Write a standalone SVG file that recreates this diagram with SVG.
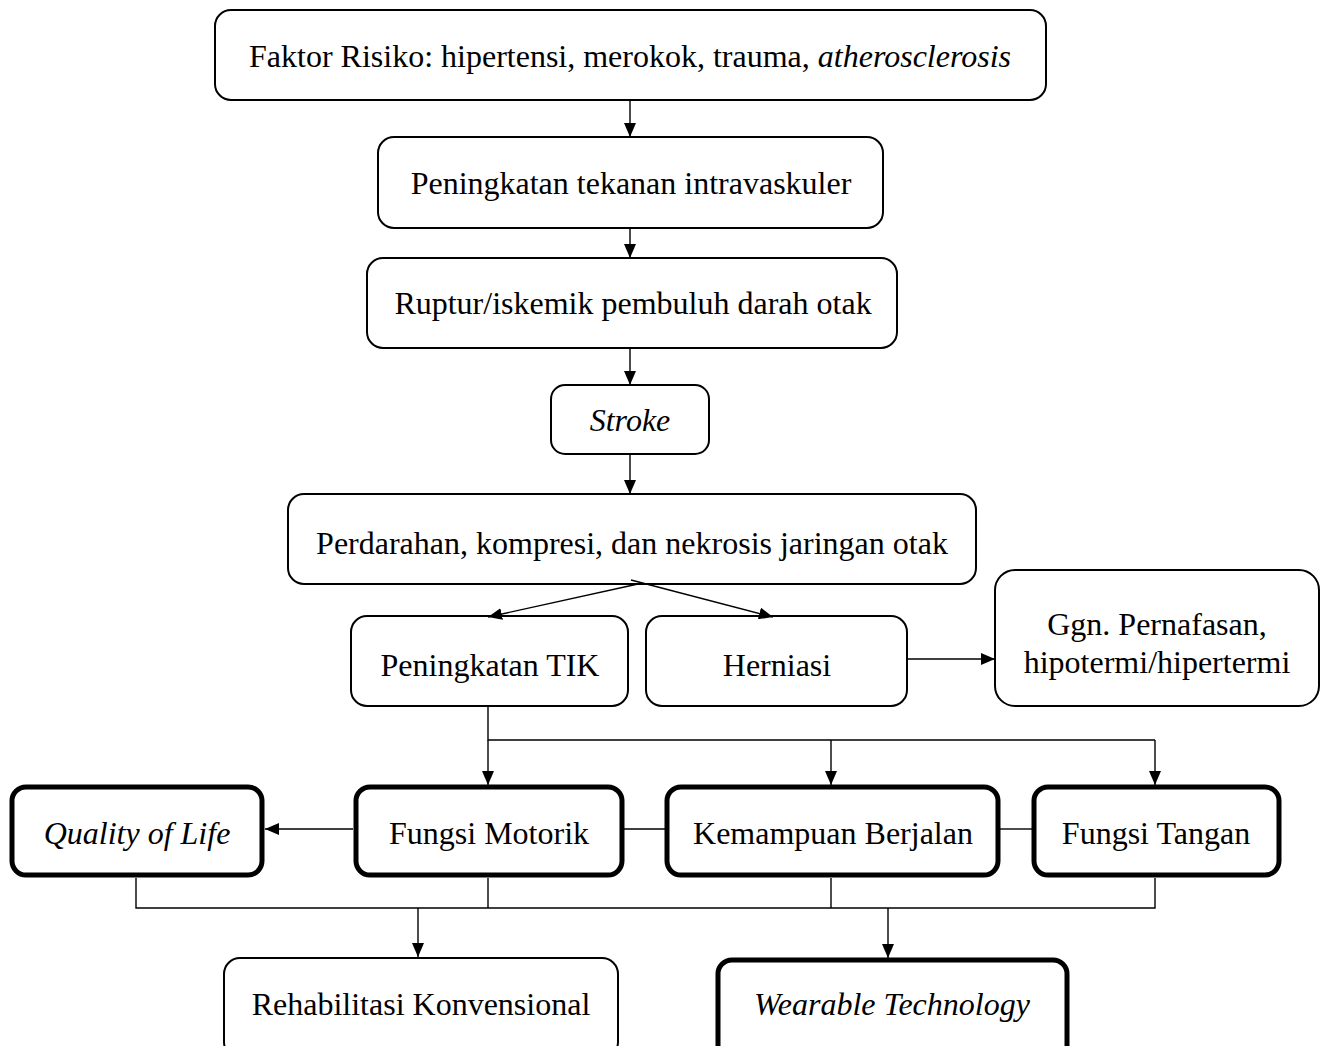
<svg xmlns="http://www.w3.org/2000/svg" width="1328" height="1046" viewBox="0 0 1328 1046">
<style>
.n{fill:#fff;stroke:#000;stroke-width:2}
.b{fill:#fff;stroke:#000;stroke-width:5}
.t{font-family:"Liberation Serif","Times New Roman",serif;font-size:32px;fill:#000;text-anchor:middle}
.i{font-style:italic}
.c{fill:none;stroke:#000;stroke-width:1.4}
</style>
<defs>
<marker id="ah" viewBox="0 0 14 12" refX="14" refY="6" markerWidth="14" markerHeight="12" markerUnits="userSpaceOnUse" orient="auto">
<path d="M0,0 L14,6 L0,12 Z" fill="#000"/>
</marker>
</defs>
<rect width="1328" height="1046" fill="#fff"/>
<g id="n1"><rect class="n" x="215" y="10" width="831" height="90" rx="16"/><text class="t" x="630" y="67">Faktor Risiko: hipertensi, merokok, trauma, <tspan class="i">atherosclerosis</tspan></text></g>
<g id="n2"><rect class="n" x="378" y="137" width="505" height="91" rx="16"/><text class="t" x="631" y="194">Peningkatan tekanan intravaskuler</text></g>
<g id="n3"><rect class="n" x="367" y="258" width="530" height="90" rx="16"/><text class="t" x="633" y="314">Ruptur/iskemik pembuluh darah otak</text></g>
<g id="n4"><rect class="n" x="551" y="385" width="158" height="69" rx="14"/><text class="t i" x="630" y="431">Stroke</text></g>
<g id="n5"><rect class="n" x="288" y="494" width="688" height="90" rx="16"/><text class="t" x="632" y="554">Perdarahan, kompresi, dan nekrosis jaringan otak</text></g>
<g id="n6"><rect class="n" x="351" y="616" width="277" height="90" rx="16"/><text class="t" x="490" y="676">Peningkatan TIK</text></g>
<g id="n7"><rect class="n" x="646" y="616" width="261" height="90" rx="16"/><text class="t" x="777" y="676">Herniasi</text></g>
<g id="n8"><rect class="n" x="995" y="570" width="324" height="136" rx="20"/><text class="t" x="1157" y="635">Ggn. Pernafasan,</text><text class="t" x="1157" y="673">hipotermi/hipertermi</text></g>
<g id="n9"><rect class="b" x="12" y="787" width="250" height="88" rx="14"/><text class="t i" x="137" y="844">Quality of Life</text></g>
<g id="n10"><rect class="b" x="356" y="787" width="266" height="88" rx="14"/><text class="t" x="489" y="844">Fungsi Motorik</text></g>
<g id="n11"><rect class="b" x="667" y="787" width="331" height="88" rx="14"/><text class="t" x="833" y="844">Kemampuan Berjalan</text></g>
<g id="n12"><rect class="b" x="1034" y="787" width="245" height="88" rx="14"/><text class="t" x="1156" y="844">Fungsi Tangan</text></g>
<g id="n13"><rect class="n" x="224" y="958" width="394" height="100" rx="16"/><text class="t" x="421" y="1015">Rehabilitasi Konvensional</text></g>
<g id="n14"><rect class="b" x="718" y="960" width="349" height="100" rx="14"/><text class="t i" x="892" y="1015">Wearable Technology</text></g>
<g id="connectors">
<path class="c" d="M630,101 V137" marker-end="url(#ah)"/>
<path class="c" d="M630,229 V258" marker-end="url(#ah)"/>
<path class="c" d="M630,349 V385" marker-end="url(#ah)"/>
<path class="c" d="M630,455 V494" marker-end="url(#ah)"/>
<path class="c" d="M638,584 L488,617" marker-end="url(#ah)"/>
<path class="c" d="M631,580 L773,617" marker-end="url(#ah)"/>
<path class="c" d="M908,659 H995" marker-end="url(#ah)"/>
<path class="c" d="M488,707 V740 H1155"/>
<path class="c" d="M488,740 V785" marker-end="url(#ah)"/>
<path class="c" d="M831,740 V785" marker-end="url(#ah)"/>
<path class="c" d="M1155,740 V785" marker-end="url(#ah)"/>
<path class="c" d="M353,829 H265" marker-end="url(#ah)"/>
<path class="c" d="M624,829 H665"/>
<path class="c" d="M1000,829 H1032"/>
<path class="c" d="M136,878 V908 H1155 V878"/>
<path class="c" d="M488,878 V908"/>
<path class="c" d="M831,878 V908"/>
<path class="c" d="M418,908 V957" marker-end="url(#ah)"/>
<path class="c" d="M888,908 V958" marker-end="url(#ah)"/>
</g>
</svg>
